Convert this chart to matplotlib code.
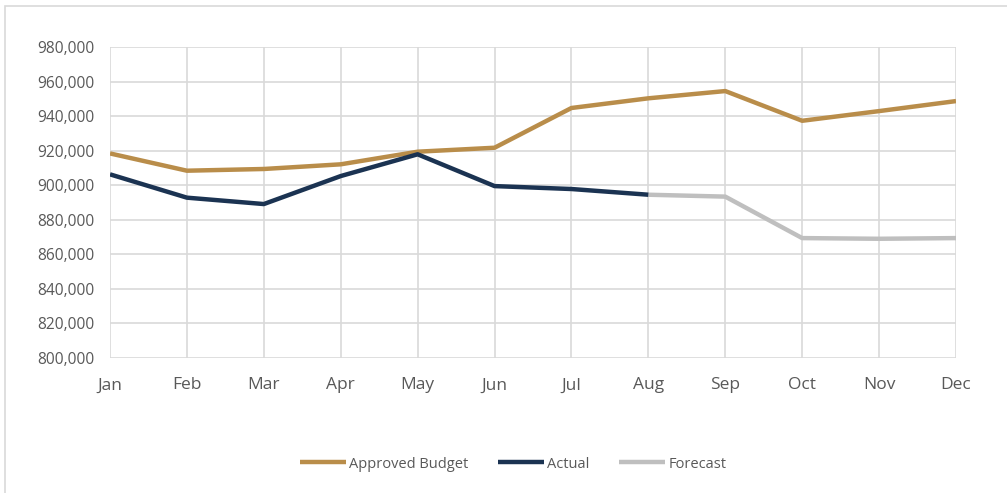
import matplotlib.pyplot as plt
import matplotlib.patches as patches
from matplotlib.ticker import FuncFormatter

plt.rcParams['font.family'] = ['Open Sans', 'DejaVu Sans']

meses = ["Jan", "Feb", "Mar", "Apr", "May", "Jun", "Jul", "Aug", "Sep", "Oct", "Nov", "Dec"]
presupuesto = [918400, 908400, 909400, 912100, 919400, 921700, 944700, 950300, 954500, 937300, 942900, 948700]
actual = [906300, 892800, 889100, 905300, 917900, 899500, 897800, 894500]
pronostico = [894500, 893400, 869400, 869000, 869400]

color_pres = "#B98D4A"
color_act = "#1B3352"
color_pron = "#BFBFBF"
gris_texto = "#595959"

fig = plt.figure(figsize=(10.07, 4.93), dpi=100)
ax = fig.add_axes([110 / 1007, 1 - 358 / 493, (956 - 110) / 1007, (358 - 47) / 493])

x = list(range(len(meses)))
ax.plot(x, presupuesto, color=color_pres, lw=3.2, label="Approved Budget", solid_capstyle="butt", zorder=3)
ax.plot(x[:len(actual)], actual, color=color_act, lw=3.2, label="Actual", solid_capstyle="butt", zorder=4)
ax.plot(x[len(actual) - 1:], pronostico, color=color_pron, lw=3.2, label="Forecast", solid_capstyle="butt", zorder=3)

ax.set_xlim(0, 11)
ax.set_ylim(800000, 980000)
ax.set_xticks(x)
ax.set_xticklabels(meses)
ax.set_yticks(range(800000, 980001, 20000))
ax.yaxis.set_major_formatter(FuncFormatter(lambda v, p: f"{int(v):,}"))

ax.grid(True, color="#D9D9D9", lw=1.2, zorder=0)
ax.set_axisbelow(True)
for s in ax.spines.values():
    s.set_visible(False)
ax.tick_params(axis="both", length=0, colors=gris_texto)
ax.tick_params(axis="x", pad=14, labelsize=12.5)
ax.tick_params(axis="y", pad=11, labelsize=11.2)

# marco exterior del grafico
marco = patches.Rectangle((5 / 1007, -0.2), 1.2, 1.2 - 6 / 493, transform=fig.transFigure,
                          fill=False, edgecolor="#D9D9D9", lw=1.2, clip_on=False)
fig.patches.append(marco)

leg = fig.legend(loc="center", bbox_to_anchor=(513 / 1007, 1 - 464 / 493), ncol=3, frameon=False,
                 fontsize=10.5, handlelength=3.2, handletextpad=0.2, columnspacing=2.0)
for t in leg.get_texts():
    t.set_color(gris_texto)

fig.savefig("out.png", dpi=100)
